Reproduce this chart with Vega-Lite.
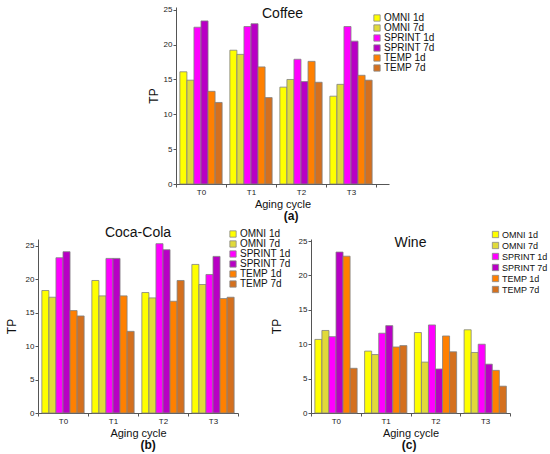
{
  "$schema": "https://vega.github.io/schema/vega-lite/v6.json",
  "background": "white",
  "padding": 5,
  "spacing": 4,
  "datasets": {
    "coffee": [
      {"cycle":"T0","series":"OMNI 1d","tp":16.1},{"cycle":"T0","series":"OMNI 7d","tp":14.9},{"cycle":"T0","series":"SPRINT 1d","tp":22.5},{"cycle":"T0","series":"SPRINT 7d","tp":23.4},{"cycle":"T0","series":"TEMP 1d","tp":13.3},{"cycle":"T0","series":"TEMP 7d","tp":11.7},
      {"cycle":"T1","series":"OMNI 1d","tp":19.2},{"cycle":"T1","series":"OMNI 7d","tp":18.6},{"cycle":"T1","series":"SPRINT 1d","tp":22.6},{"cycle":"T1","series":"SPRINT 7d","tp":23.0},{"cycle":"T1","series":"TEMP 1d","tp":16.8},{"cycle":"T1","series":"TEMP 7d","tp":12.4},
      {"cycle":"T2","series":"OMNI 1d","tp":13.9},{"cycle":"T2","series":"OMNI 7d","tp":15.0},{"cycle":"T2","series":"SPRINT 1d","tp":17.9},{"cycle":"T2","series":"SPRINT 7d","tp":14.7},{"cycle":"T2","series":"TEMP 1d","tp":17.6},{"cycle":"T2","series":"TEMP 7d","tp":14.6},
      {"cycle":"T3","series":"OMNI 1d","tp":12.6},{"cycle":"T3","series":"OMNI 7d","tp":14.3},{"cycle":"T3","series":"SPRINT 1d","tp":22.6},{"cycle":"T3","series":"SPRINT 7d","tp":20.5},{"cycle":"T3","series":"TEMP 1d","tp":15.6},{"cycle":"T3","series":"TEMP 7d","tp":14.9}
    ],
    "coca": [
      {"cycle":"T0","series":"OMNI 1d","tp":18.3},{"cycle":"T0","series":"OMNI 7d","tp":17.3},{"cycle":"T0","series":"SPRINT 1d","tp":23.2},{"cycle":"T0","series":"SPRINT 7d","tp":24.1},{"cycle":"T0","series":"TEMP 1d","tp":15.3},{"cycle":"T0","series":"TEMP 7d","tp":14.5},
      {"cycle":"T1","series":"OMNI 1d","tp":19.8},{"cycle":"T1","series":"OMNI 7d","tp":17.5},{"cycle":"T1","series":"SPRINT 1d","tp":23.1},{"cycle":"T1","series":"SPRINT 7d","tp":23.1},{"cycle":"T1","series":"TEMP 1d","tp":17.5},{"cycle":"T1","series":"TEMP 7d","tp":12.2},
      {"cycle":"T2","series":"OMNI 1d","tp":18.0},{"cycle":"T2","series":"OMNI 7d","tp":17.2},{"cycle":"T2","series":"SPRINT 1d","tp":25.3},{"cycle":"T2","series":"SPRINT 7d","tp":24.4},{"cycle":"T2","series":"TEMP 1d","tp":16.7},{"cycle":"T2","series":"TEMP 7d","tp":19.8},
      {"cycle":"T3","series":"OMNI 1d","tp":22.2},{"cycle":"T3","series":"OMNI 7d","tp":19.2},{"cycle":"T3","series":"SPRINT 1d","tp":20.7},{"cycle":"T3","series":"SPRINT 7d","tp":23.4},{"cycle":"T3","series":"TEMP 1d","tp":17.1},{"cycle":"T3","series":"TEMP 7d","tp":17.3}
    ],
    "wine": [
      {"cycle":"T0","series":"OMNI 1d","tp":10.7},{"cycle":"T0","series":"OMNI 7d","tp":12.0},{"cycle":"T0","series":"SPRINT 1d","tp":11.1},{"cycle":"T0","series":"SPRINT 7d","tp":23.4},{"cycle":"T0","series":"TEMP 1d","tp":22.8},{"cycle":"T0","series":"TEMP 7d","tp":6.5},
      {"cycle":"T1","series":"OMNI 1d","tp":9.0},{"cycle":"T1","series":"OMNI 7d","tp":8.5},{"cycle":"T1","series":"SPRINT 1d","tp":11.6},{"cycle":"T1","series":"SPRINT 7d","tp":12.7},{"cycle":"T1","series":"TEMP 1d","tp":9.6},{"cycle":"T1","series":"TEMP 7d","tp":9.8},
      {"cycle":"T2","series":"OMNI 1d","tp":11.7},{"cycle":"T2","series":"OMNI 7d","tp":7.4},{"cycle":"T2","series":"SPRINT 1d","tp":12.8},{"cycle":"T2","series":"SPRINT 7d","tp":6.4},{"cycle":"T2","series":"TEMP 1d","tp":11.2},{"cycle":"T2","series":"TEMP 7d","tp":8.9},
      {"cycle":"T3","series":"OMNI 1d","tp":12.1},{"cycle":"T3","series":"OMNI 7d","tp":8.8},{"cycle":"T3","series":"SPRINT 1d","tp":10.0},{"cycle":"T3","series":"SPRINT 7d","tp":7.1},{"cycle":"T3","series":"TEMP 1d","tp":6.2},{"cycle":"T3","series":"TEMP 7d","tp":3.9}
    ]
  },
  "config": {
    "font": "Liberation Sans",
    "view": {"stroke": null},
    "axis": {"labelFont": "Liberation Sans", "labelFontSize": 8, "labelColor": "#222", "titleFont": "Liberation Sans", "titleFontSize": 11, "titleFontWeight": "normal", "titleColor": "#111", "domainColor": "#555", "tickColor": "#555", "tickSize": 3, "grid": false, "labelPadding": 1},
    "axisX": {"labelAngle": 0, "tickBand": "extent", "titlePadding": 2},
    "axisY": {"titlePadding": 7, "titleFontSize": 12},
    "legend": {"labelFont": "Liberation Sans", "labelFontSize": 10, "labelColor": "#111", "symbolType": "square", "symbolSize": 40, "symbolStrokeColor": "#888", "symbolStrokeWidth": 0.8, "rowPadding": 0, "labelOffset": 2, "title": null},
    "title": {"font": "Liberation Sans", "fontWeight": "normal", "fontSize": 13, "color": "#111"}
  },
  "resolve": {"scale": {"color": "independent"}, "legend": {"color": "independent"}},
  "vconcat": [
    {
      "spacing": 10,
      "resolve": {"scale": {"color": "independent"}, "legend": {"color": "independent"}},
      "hconcat": [
        {"data": {"values": [{}]}, "width": 99, "height": 10, "mark": {"type": "text"}, "encoding": {"text": {"value": ""}}},
        {
          "title": {"text": "(a)", "orient": "bottom", "anchor": "middle", "fontWeight": "bold", "fontSize": 12, "offset": 2},
          "resolve": {"scale": {"color": "independent"}, "legend": {"color": "independent"}},
          "vconcat": [
            {
              "data": {"name": "coffee"},
              "width": 213, "height": 177,
              "title": {"text": "Coffee", "offset": -26, "baseline": "alphabetic", "frame": "group", "anchor": "middle", "fontSize": 14},
              "mark": {"type": "bar", "stroke": "#808080", "strokeWidth": 0.8},
              "encoding": {
                "x": {"field": "cycle", "type": "nominal", "title": "Aging cycle", "scale": {"paddingInner": 0, "paddingOuter": 0.13, "align": 0}},
                "xOffset": {"field": "series", "type": "nominal", "scale": {"paddingInner": 0, "paddingOuter": 0.55}},
                "y": {"field": "tp", "type": "quantitative", "title": "TP", "scale": {"domain": [0, 25.4], "nice": false}, "axis": {"values": [0, 5, 10, 15, 20, 25], "titlePadding": 3}},
                "color": {"field": "series", "type": "nominal", "scale": {"domain": ["OMNI 1d","OMNI 7d","SPRINT 1d","SPRINT 7d","TEMP 1d","TEMP 7d"], "range": ["#FFFF00","#E0DA3A","#FF00FF","#B800C4","#FF8000","#D4701E"]}, "legend": {"orient": "none", "legendX": 196, "legendY": 6}}
              }
            }
          ]
        }
      ]
    },
    {
      "spacing": -21,
      "resolve": {"scale": {"color": "independent"}, "legend": {"color": "independent"}},
      "hconcat": [
        {
          "title": {"text": "(b)", "orient": "bottom", "anchor": "middle", "fontWeight": "bold", "fontSize": 12, "offset": 2},
          "resolve": {"scale": {"color": "independent"}, "legend": {"color": "independent"}},
          "vconcat": [
            {
              "data": {"name": "coca"},
              "width": 200, "height": 174,
              "title": {"text": "Coca-Cola", "offset": -22, "baseline": "alphabetic", "frame": "group", "anchor": "middle", "fontSize": 14},
              "mark": {"type": "bar", "stroke": "#808080", "strokeWidth": 0.8},
              "encoding": {
                "x": {"field": "cycle", "type": "nominal", "title": "Aging cycle", "scale": {"paddingInner": 0, "paddingOuter": 0}},
                "xOffset": {"field": "series", "type": "nominal", "scale": {"paddingInner": 0, "paddingOuter": 0.55}},
                "y": {"field": "tp", "type": "quantitative", "title": "TP", "scale": {"domain": [0, 26], "nice": false}, "axis": {"values": [0, 5, 10, 15, 20, 25]}},
                "color": {"field": "series", "type": "nominal", "scale": {"domain": ["OMNI 1d","OMNI 7d","SPRINT 1d","SPRINT 7d","TEMP 1d","TEMP 7d"], "range": ["#FFFF00","#E0DA3A","#FF00FF","#B800C4","#FF8000","#D4701E"]}, "legend": {"orient": "none", "legendX": 190, "legendY": -10}}
              }
            }
          ]
        },
        {
          "title": {"text": "(c)", "orient": "bottom", "anchor": "middle", "fontWeight": "bold", "fontSize": 12, "offset": 2},
          "resolve": {"scale": {"color": "independent"}, "legend": {"color": "independent"}},
          "vconcat": [
            {
              "data": {"name": "wine"},
              "width": 199, "height": 174,
              "title": {"text": "Wine", "offset": -31, "baseline": "alphabetic", "frame": "group", "anchor": "middle", "fontSize": 14},
              "mark": {"type": "bar", "stroke": "#808080", "strokeWidth": 0.8},
              "encoding": {
                "x": {"field": "cycle", "type": "nominal", "title": "Aging cycle", "scale": {"paddingInner": 0, "paddingOuter": 0}},
                "xOffset": {"field": "series", "type": "nominal", "scale": {"paddingInner": 0, "paddingOuter": 0.55}},
                "y": {"field": "tp", "type": "quantitative", "title": "TP", "scale": {"domain": [0, 25.3], "nice": false}, "axis": {"values": [0, 5, 10, 15, 20, 25], "titlePadding": 15}},
                "color": {"field": "series", "type": "nominal", "scale": {"domain": ["OMNI 1d","OMNI 7d","SPRINT 1d","SPRINT 7d","TEMP 1d","TEMP 7d"], "range": ["#FFFF00","#E0DA3A","#FF00FF","#B800C4","#FF8000","#D4701E"]}, "legend": {"orient": "none", "legendX": 180, "legendY": -9, "labelFontSize": 9}}
              }
            }
          ]
        }
      ]
    }
  ]
}
